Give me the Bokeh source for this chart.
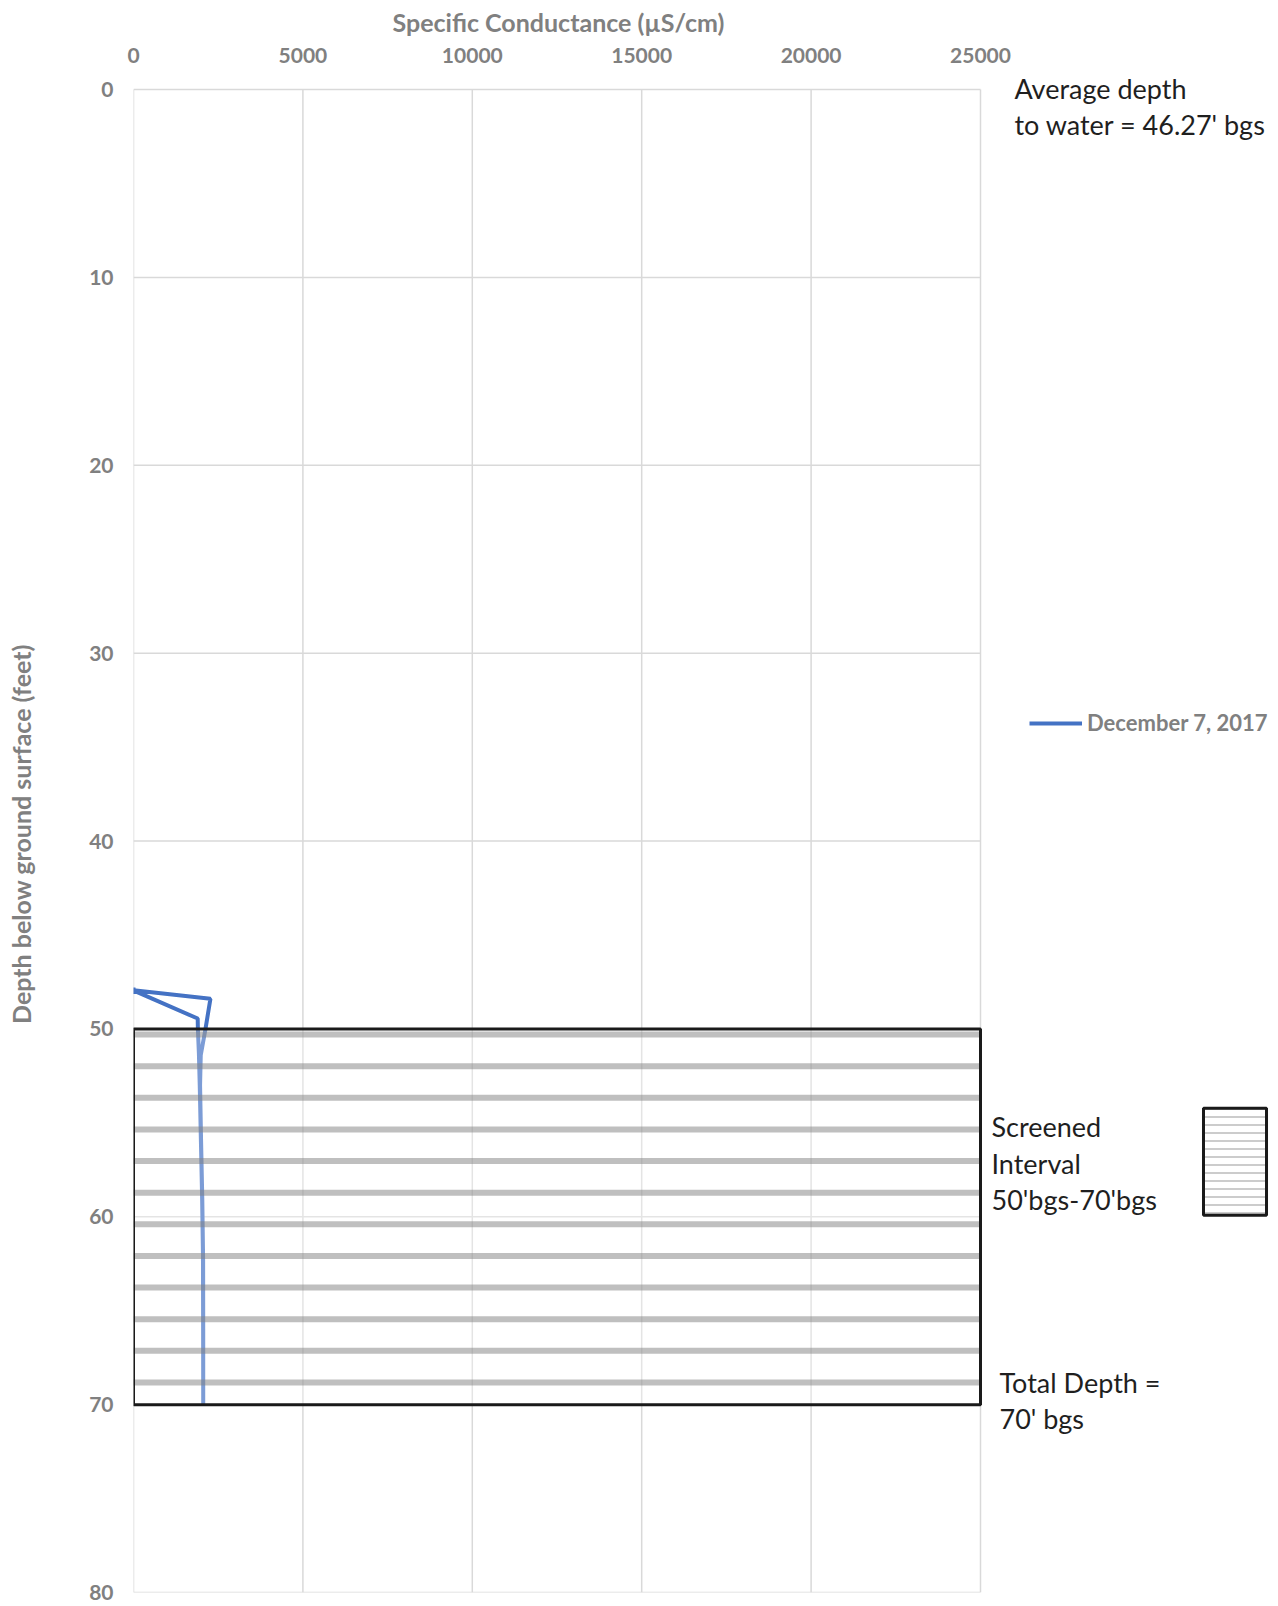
import numpy as np
from bokeh.plotting import figure
from bokeh.models import (Range1d, Label, Legend, LegendItem, FixedTicker,
                          ColumnDataSource, Title)
from bokeh.embed import file_html
from bokeh.resources import INLINE

# ---------------- data ----------------
series_name = "December 7, 2017"
sc = [0, 0, 0, 2270, 2125, 1985, 1965, 1995, 2030, 2055, 2058, 2058,
      2055, 2050, 2025, 1990, 1955, 1930, 1900, 1895, 60, 0]
depth = [47.80, 48.15, 47.95, 48.40, 50.00, 51.40, 53.0, 56.0, 59.0, 62.3, 66.0, 70.0,
         66.0, 62.0, 59.0, 56.0, 53.0, 51.3, 50.0, 49.45, 48.0, 47.90]
x_ticks = [0, 5000, 10000, 15000, 20000, 25000]
y_ticks = [0, 10, 20, 30, 40, 50, 60, 70, 80]
x_title = "Specific Conductance (µS/cm)"
y_title = "Depth below ground surface (feet)"
water_depth = 46.27
screen_top = 50
screen_bottom = 70
total_depth = 70
n_screen_stripes = 12

GRAY = "#808080"
GRID = "#d9d9d9"
BLUE = "#4472C4"
TXT = "#1f1f1f"

# ---------------- layout constants (pixels) ----------------
W, H = 1278, 1606
LEFT, TOP, PLOT_W, PLOT_H = 133, 89, 847, 1503
EXTRA_TOP = 14                      # frame starts a bit above depth 0 so texts fit
BOTTOM = H - TOP - PLOT_H
XMAX, YMAX = x_ticks[-1], y_ticks[-1]
kx = PLOT_W / XMAX
ky = PLOT_H / YMAX
x_right = (W - LEFT) / kx
y_top = -EXTRA_TOP / ky

p = figure(width=W, height=H, output_backend="svg", toolbar_location=None,
           title=None,
           x_range=Range1d(0, x_right), y_range=Range1d(YMAX, y_top),
           x_axis_location="above",
           min_border_left=LEFT, min_border_right=0,
           min_border_top=TOP - EXTRA_TOP, min_border_bottom=BOTTOM)
p.outline_line_color = None
p.grid.visible = False

for ax, ticks in ((p.xaxis[0], x_ticks), (p.yaxis[0], y_ticks)):
    ax.ticker = FixedTicker(ticks=ticks)
    ax.major_label_text_font = "Lato"
    ax.major_label_text_font_style = "bold"
    ax.major_label_text_font_size = "21px"
    ax.major_label_text_color = GRAY
    ax.axis_label_text_font = "Lato"
    ax.axis_label_text_font_style = "bold"
    ax.axis_label_text_font_size = "25px"
    ax.axis_label_text_color = GRAY
    ax.axis_line_color = None
    ax.major_tick_line_color = None
    ax.minor_tick_line_color = None
    ax.major_tick_out = 0
    ax.major_tick_in = 0

p.xaxis[0].bounds = (0, XMAX)
p.yaxis[0].bounds = (0, YMAX)
p.xaxis[0].major_label_standoff = 27 - EXTRA_TOP
p.yaxis[0].axis_label = y_title
p.yaxis[0].major_label_standoff = 20
p.yaxis[0].axis_label_standoff = 50

# x-axis title centred over the 0..25000 span
p.add_layout(Title(text=x_title, text_font="Lato", text_font_style="bold",
                   text_font_size="25px", text_color=GRAY, align="left",
                   vertical_align="top", offset=259, standoff=12), "above")

# gridlines limited to the chart area
p.segment(x0=x_ticks, x1=x_ticks, y0=0, y1=YMAX, line_color=GRID, line_width=1.5)
p.segment(x0=0, x1=XMAX, y0=y_ticks, y1=y_ticks, line_color=GRID, line_width=1.5)

# profile line
src = ColumnDataSource(dict(sc=sc, depth=depth))
r = p.line("sc", "depth", source=src, line_color=BLUE, line_width=4)

# screened interval (drawn over the line)
p.quad(left=[0], right=[XMAX], top=[screen_top], bottom=[screen_bottom],
       fill_color="white", fill_alpha=0.3, line_color=None)
stripe_y = screen_top + (np.arange(n_screen_stripes) + 0.18) * \
    (screen_bottom - screen_top) / n_screen_stripes * 1.01
p.segment(x0=0, x1=XMAX, y0=stripe_y, y1=stripe_y, line_color="#7f7f7f",
          line_alpha=0.5, line_width=6)
p.quad(left=[0], right=[XMAX], top=[screen_top], bottom=[screen_bottom],
       fill_color=None, line_color="#1a1a1a", line_width=3)

# ---------------- annotations on the right ----------------
ann_x = [26000, 26000, 25325, 25325, 25325, 25560, 25560]
ann_y = [-0.05, 1.87, 55.22, 57.19, 59.10, 68.81, 70.73]
ann_t = ["Average depth", f"to water = {water_depth}' bgs",
         "Screened", "Interval", f"{screen_top}'bgs-{screen_bottom}'bgs",
         "Total Depth =", f"{total_depth}' bgs"]
for x, y, t in zip(ann_x, ann_y, ann_t):
    p.add_layout(Label(x=x, y=y, text=t, text_font="Lato", text_font_size="27px",
                       text_color=TXT, text_baseline="middle"))

# key box for the screened interval
p.quad(left=[31582], right=[33442], top=[54.23], bottom=[59.92],
       fill_color="white", line_color="#1a1a1a", line_width=3,
       hatch_pattern="horizontal_line", hatch_color="#cccccc",
       hatch_weight=2, hatch_scale=8)

# legend
legend = Legend(items=[LegendItem(label=series_name, renderers=[r])],
                location=(1029 - LEFT, (TOP + PLOT_H) - 723 - 13),
                label_text_font="Lato", label_text_font_style="bold",
                label_text_font_size="22px", label_text_color=GRAY,
                glyph_width=53, glyph_height=20, label_height=20,
                label_standoff=5, padding=0, margin=0, spacing=0,
                border_line_color=None, background_fill_alpha=0)
p.add_layout(legend)

open("out.html", "w").write(file_html(p, INLINE))
